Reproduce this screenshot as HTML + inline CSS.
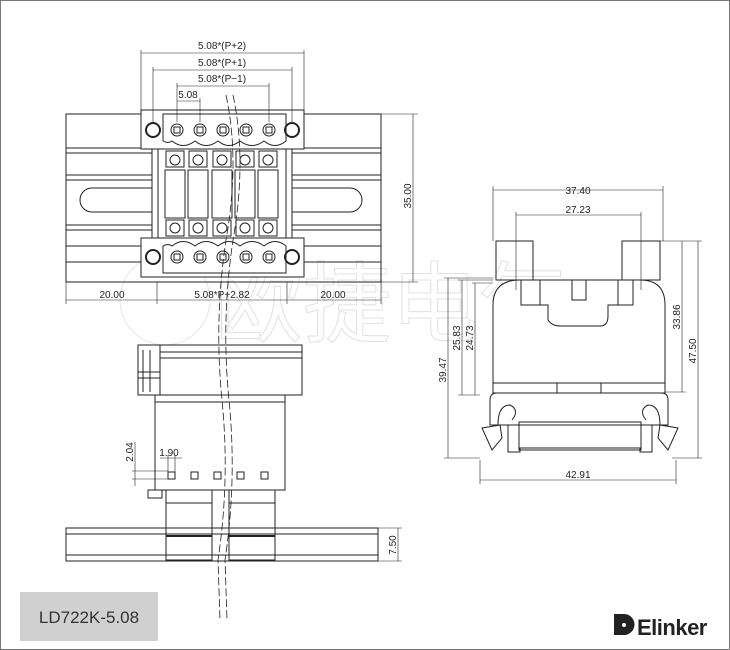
<!DOCTYPE html>
<html><head><meta charset="utf-8"><style>
html,body{margin:0;padding:0;background:#fff}
svg{display:block}
text{font-family:"Liberation Sans",sans-serif;font-size:10px;fill:#222}
</style></head><body>
<svg width="730" height="650" viewBox="0 0 730 650" xmlns="http://www.w3.org/2000/svg">
<rect x="0.5" y="0.5" width="729" height="649" fill="#fff" stroke="#777"/>
<!-- watermark -->
<g opacity="0.25">
<circle cx="165" cy="300" r="45" fill="none" stroke="#999"/>
<text x="215" y="335" style="font-family:'Noto Sans CJK SC',sans-serif;font-size:88px;fill:none;stroke:#888;stroke-width:1">欧捷电气</text>
</g>
<g fill="none" stroke="#222" stroke-width="1">
<!-- TOP VIEW rail -->
<rect x="66" y="114" width="315" height="168"/>
<line x1="66" y1="148" x2="381" y2="148"/><line x1="66" y1="153" x2="381" y2="153"/>
<line x1="66" y1="175" x2="381" y2="175"/><line x1="66" y1="180" x2="381" y2="180"/>
<line x1="66" y1="225" x2="381" y2="225"/><line x1="66" y1="230" x2="381" y2="230"/>
<line x1="66" y1="246" x2="381" y2="246"/><line x1="66" y1="262" x2="381" y2="262"/>
<rect x="80" y="188" width="282" height="24" rx="12" fill="#fff"/>
<!-- middle body -->
<rect x="152" y="148" width="140" height="90" fill="#fff"/>
<rect x="158" y="148" width="128" height="90"/>
<g>
<rect x="165" y="170" width="20" height="48"/><rect x="188" y="170" width="20" height="48"/>
<rect x="212" y="170" width="20" height="48"/><rect x="235" y="170" width="20" height="48"/>
<rect x="258" y="170" width="20" height="48"/>
<rect x="166" y="151" width="18" height="16"/><rect x="189" y="151" width="18" height="16"/>
<rect x="213" y="151" width="18" height="16"/><rect x="236" y="151" width="18" height="16"/>
<rect x="259" y="151" width="18" height="16"/>
<rect x="166" y="220" width="18" height="16"/><rect x="189" y="220" width="18" height="16"/>
<rect x="213" y="220" width="18" height="16"/><rect x="236" y="220" width="18" height="16"/>
<rect x="259" y="220" width="18" height="16"/>
<circle cx="175" cy="160" r="5"/><circle cx="198" cy="160" r="5"/><circle cx="222" cy="160" r="5"/><circle cx="245" cy="160" r="5"/><circle cx="268" cy="160" r="5"/>
<circle cx="175" cy="228" r="5"/><circle cx="198" cy="228" r="5"/><circle cx="222" cy="228" r="5"/><circle cx="245" cy="228" r="5"/><circle cx="268" cy="228" r="5"/>
</g>
<!-- plugs -->
<rect x="141" y="110" width="163" height="39" fill="#fff"/>
<path d="M163 114 H286 V141 Q275 150 264 141 Q252 150 240 141 Q229 150 218 141 Q206 150 195 141 Q183 150 172 141 Q168 144 163 141 Z"/>
<rect x="141" y="238" width="163" height="39" fill="#fff"/>
<path d="M163 273 H286 V246 Q275 237 264 246 Q252 237 240 246 Q229 237 218 246 Q206 237 195 246 Q183 237 172 246 Q168 243 163 246 Z"/>
<g stroke-width="2">
<circle cx="153" cy="130" r="7"/><circle cx="292" cy="130" r="7"/>
<circle cx="153" cy="257" r="7"/><circle cx="292" cy="257" r="7"/>
</g>
<g>
<circle cx="177" cy="130" r="6"/><circle cx="200" cy="130" r="6"/><circle cx="223" cy="130" r="6"/><circle cx="246" cy="130" r="6"/><circle cx="269" cy="130" r="6"/>
<circle cx="177" cy="257" r="6"/><circle cx="200" cy="257" r="6"/><circle cx="223" cy="257" r="6"/><circle cx="246" cy="257" r="6"/><circle cx="269" cy="257" r="6"/>
<rect x="174" y="127" width="6" height="6"/><rect x="197" y="127" width="6" height="6"/><rect x="220" y="127" width="6" height="6"/><rect x="243" y="127" width="6" height="6"/><rect x="266" y="127" width="6" height="6"/>
<rect x="174" y="254" width="6" height="6"/><rect x="197" y="254" width="6" height="6"/><rect x="220" y="254" width="6" height="6"/><rect x="243" y="254" width="6" height="6"/><rect x="266" y="254" width="6" height="6"/>
</g>
<!-- dims top -->
<g stroke-width="0.6">
<line x1="141" y1="53" x2="304" y2="53"/><line x1="141" y1="50" x2="141" y2="110"/><line x1="304" y1="50" x2="304" y2="110"/>
<line x1="153" y1="70" x2="292" y2="70"/><line x1="153" y1="67" x2="153" y2="122"/><line x1="292" y1="67" x2="292" y2="122"/>
<line x1="177" y1="86" x2="269" y2="86"/><line x1="177" y1="83" x2="177" y2="122"/><line x1="269" y1="83" x2="269" y2="122"/>
<line x1="177" y1="101" x2="200" y2="101"/><line x1="200" y1="98" x2="200" y2="122"/>
<line x1="304" y1="114" x2="418" y2="114"/><line x1="381" y1="282" x2="418" y2="282"/><line x1="413" y1="114" x2="413" y2="282"/>
<line x1="66" y1="300" x2="381" y2="300"/><line x1="66" y1="282" x2="66" y2="304"/><line x1="157" y1="282" x2="157" y2="304"/><line x1="287" y1="282" x2="287" y2="304"/><line x1="381" y1="282" x2="381" y2="304"/>
</g>
<!-- FRONT VIEW -->
<rect x="138" y="345" width="164" height="50"/><line x1="160" y1="345" x2="160" y2="395"/>
<line x1="160" y1="352" x2="302" y2="352"/><line x1="160" y1="358" x2="302" y2="358"/>
<line x1="143" y1="350" x2="143" y2="392"/><line x1="150" y1="350" x2="150" y2="392"/><line x1="138" y1="372" x2="160" y2="372"/><line x1="138" y1="378" x2="160" y2="378"/>
<rect x="155" y="395" width="130" height="95"/><line x1="155" y1="402" x2="285" y2="402"/>
<rect x="168" y="472" width="7" height="7"/><rect x="191" y="472" width="7" height="7"/><rect x="214" y="472" width="7" height="7"/><rect x="237" y="472" width="7" height="7"/><rect x="261" y="472" width="7" height="7"/>
<rect x="148" y="490" width="14" height="8"/>
<rect x="166" y="490" width="46" height="70"/><rect x="229" y="490" width="46" height="70"/>
<line x1="166" y1="503" x2="212" y2="503"/><line x1="229" y1="503" x2="275" y2="503"/>
<rect x="66" y="528" width="312" height="33"/>
<line x1="66" y1="534" x2="378" y2="534"/><line x1="66" y1="555" x2="378" y2="555"/>
<line x1="166" y1="536" x2="212" y2="536" stroke-width="2"/><line x1="229" y1="536" x2="275" y2="536" stroke-width="2"/>
<g stroke-width="0.6">
<line x1="378" y1="528" x2="402" y2="528"/><line x1="378" y1="561" x2="402" y2="561"/><line x1="398" y1="528" x2="398" y2="561"/>
<line x1="132" y1="471" x2="168" y2="471"/><line x1="132" y1="479" x2="168" y2="479"/><line x1="135" y1="442" x2="135" y2="486"/>
<line x1="160" y1="458" x2="182" y2="458"/><line x1="168" y1="455" x2="168" y2="472"/><line x1="175" y1="455" x2="175" y2="472"/>
</g>
<!-- wires -->
<g stroke-dasharray="8 3" stroke-width="0.8">
<path d="M226 95 Q240 160 226 240 Q214 320 222 400 Q230 480 218 560 L220 620"/>
<path d="M233 95 Q247 160 233 240 Q221 320 229 400 Q237 480 225 560 L227 620"/>
</g>
<!-- SIDE VIEW -->
<path d="M496 241 H533 V280 H496 Z"/><path d="M622 241 H660 V280 H622 Z"/>
<path d="M493 383 V305 Q493 280 520 280 H640 Q665 280 665 305 V383 Z" fill="#fff"/>
<path d="M521 280 V305 H548 V320 Q552 326 560 326 H600 Q608 326 608 316 V305 H633 V280"/>
<rect x="572" y="280" width="14" height="20"/>
<line x1="540" y1="280" x2="540" y2="305"/><line x1="618" y1="280" x2="618" y2="305"/>
<path d="M490 400 Q490 393 497 393 H661 Q668 393 668 400 V425 H490 Z"/>
<path d="M508 425 V452 H520 V448 H640 V452 H652 V425"/>
<rect x="493" y="383" width="172" height="10"/>
<rect x="557" y="383" width="44" height="10"/>
<path d="M482 428 L500 425 L502 438 L492 450 Z" fill="#fff"/><path d="M678 428 L660 425 L658 438 L668 450 Z" fill="#fff"/>
<path d="M498 425 Q498 405 510 405 Q520 410 512 420"/><path d="M660 425 Q660 405 648 405 Q638 410 646 420"/>
<rect x="519" y="422" width="122" height="28"/>
<g stroke-width="0.6">
<line x1="493" y1="190" x2="663" y2="190"/><line x1="493" y1="186" x2="493" y2="241"/><line x1="663" y1="186" x2="663" y2="241"/>
<line x1="516" y1="215" x2="641" y2="215"/><line x1="516" y1="212" x2="516" y2="290"/><line x1="641" y1="212" x2="641" y2="290"/>
<line x1="660" y1="241" x2="702" y2="241"/><line x1="665" y1="392" x2="686" y2="392"/><line x1="672" y1="458" x2="702" y2="458"/>
<line x1="698" y1="241" x2="698" y2="458"/><line x1="682" y1="241" x2="682" y2="392"/>
<line x1="444" y1="278" x2="493" y2="278"/><line x1="458" y1="280" x2="493" y2="280"/><line x1="472" y1="283" x2="493" y2="283"/>
<line x1="444" y1="458" x2="480" y2="458"/><line x1="458" y1="395" x2="480" y2="395"/>
<line x1="448" y1="278" x2="448" y2="458"/><line x1="462" y1="280" x2="462" y2="395"/><line x1="475" y1="283" x2="475" y2="395"/>
<line x1="480" y1="460" x2="480" y2="484"/><line x1="676" y1="460" x2="676" y2="484"/><line x1="480" y1="480" x2="676" y2="480"/>
</g>
</g>
<!-- text -->
<text x="222" y="49" text-anchor="middle">5.08*(P+2)</text>
<text x="222" y="66" text-anchor="middle">5.08*(P+1)</text>
<text x="222" y="82" text-anchor="middle">5.08*(P−1)</text>
<text x="188" y="98" text-anchor="middle">5.08</text>
<text x="112" y="298" text-anchor="middle">20.00</text>
<text x="222" y="298" text-anchor="middle">5.08*P+2.82</text>
<text x="333" y="298" text-anchor="middle">20.00</text>
<text transform="translate(411,196) rotate(-90)" text-anchor="middle">35.00</text>
<text transform="translate(396,545) rotate(-90)" text-anchor="middle">7.50</text>
<text transform="translate(133,452) rotate(-90)" text-anchor="middle">2.04</text>
<text x="169" y="456" text-anchor="middle">1.90</text>
<text x="578" y="194" text-anchor="middle">37.40</text>
<text x="578" y="213" text-anchor="middle">27.23</text>
<text x="578" y="478" text-anchor="middle">42.91</text>
<text transform="translate(696,351) rotate(-90)" text-anchor="middle">47.50</text>
<text transform="translate(680,317) rotate(-90)" text-anchor="middle">33.86</text>
<text transform="translate(446,370) rotate(-90)" text-anchor="middle">39.47</text>
<text transform="translate(460,338) rotate(-90)" text-anchor="middle">25.83</text>
<text transform="translate(473,338) rotate(-90)" text-anchor="middle">24.73</text>
<rect x="20" y="592" width="138" height="49" fill="#d0d0d0"/>
<text x="89" y="623" text-anchor="middle" style="font-size:17px;fill:#333">LD722K-5.08</text>
<path d="M614 614 H624 A10 10 0 0 1 624 635 H614 Z" fill="#222"/>
<circle cx="624" cy="625" r="2" fill="#fff"/>
<text x="637" y="635" style="font-size:22px;font-weight:bold;fill:#222;letter-spacing:-0.5px">Elinker</text>
</svg>
</body></html>
